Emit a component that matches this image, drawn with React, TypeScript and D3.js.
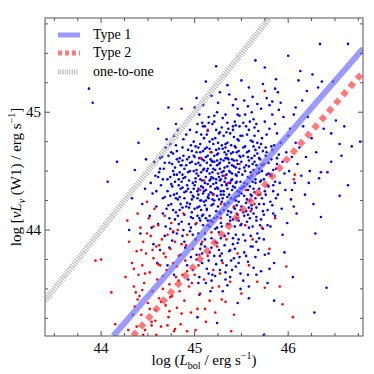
import React from 'react';
import * as d3 from 'd3';

// axis ranges and tick labels
const xDomain = [43.4, 46.8];
const yDomain = [43.1, 45.8];
const xMajor = [44, 45, 46];
const yMajor = [44, 45];

// fitted relations (slope, intercept)
const type1Fit = [0.914, 2.765];
const type2Fit = [0.9106, 2.724];

const blueSources: [number, number][] = [
  [43.87,45.20],[43.91,45.08],[44.07,44.41],[44.17,44.58],[44.36,44.51],[44.40,44.74],[44.30,44.00],[44.44,44.22],[44.47,44.35],[44.33,44.27],[44.42,43.97],[44.48,44.60],
  [44.52,44.12],[44.55,44.31],[44.58,44.46],[44.61,44.05],[44.63,44.52],[44.67,44.52],[44.62,44.49],[44.65,44.62],[44.56,43.88],[44.59,44.20],[44.68,44.28],[44.53,44.40],[44.66,44.14],[44.60,43.72],[44.64,44.38],[44.69,44.70],[44.57,44.58],[44.54,44.02],[44.68,43.95],[44.61,44.86],[44.66,44.43],[44.70,44.18],[44.63,43.83],
  [44.72,45.04],[44.86,45.03],[44.80,44.72],[44.81,44.67],[44.88,44.63],[44.81,44.60],[44.84,44.49],[44.83,44.38],[44.71,44.33],[44.73,44.10],[44.74,44.45],[44.75,44.22],[44.76,44.56],[44.77,43.98],[44.78,44.30],[44.79,44.41],[44.80,44.15],[44.82,44.26],[44.83,44.05],[44.85,44.35],[44.86,44.55],[44.87,44.19],[44.88,44.44],[44.89,43.90],[44.72,44.63],[44.74,44.01],[44.76,44.37],[44.78,44.80],[44.79,44.09],[44.81,44.47],[44.84,44.28],[44.85,43.79],[44.87,44.70],[44.89,44.32],[44.73,43.85],[44.77,44.50],[44.80,44.90],[44.82,44.12],[44.86,44.41],[44.88,44.00],[44.75,44.66],[44.83,44.58],[44.71,43.70],[44.85,44.22],[44.89,44.52],[44.74,44.29],[44.78,43.62],[44.87,43.95],
  [44.91,44.81],[45.00,45.04],[45.05,44.98],[45.07,44.81],[44.90,44.45],[44.91,44.20],[44.92,44.60],[44.93,44.35],[44.94,44.05],[44.95,44.50],[44.96,44.72],[44.97,44.15],[44.98,44.40],[44.99,44.28],[45.00,44.62],[45.01,43.92],[45.02,44.48],[45.03,44.33],[45.04,44.70],[45.05,44.10],[45.06,44.55],[45.07,44.25],[45.08,44.42],[45.09,44.88],[44.90,43.85],[44.92,44.38],[44.93,44.68],[44.95,44.22],[44.96,44.02],[44.97,44.58],[44.99,44.75],[45.00,44.18],[45.01,44.44],[45.02,43.75],[45.03,44.90],[45.04,44.30],[45.06,44.08],[45.08,44.60],[45.09,44.36],[45.10,44.52],[44.91,44.55],[44.94,44.42],[44.96,44.32],[44.98,43.96],[45.00,44.38],[45.02,44.66],[45.04,44.46],[45.05,44.20],[45.07,43.88],[45.08,44.12],[45.10,44.78],[44.92,43.70],[44.95,44.85],[44.97,44.26],[45.01,44.56],[45.03,44.12],[45.06,44.66],[45.09,44.04],[44.94,44.62],[44.99,44.50],[45.03,43.26],[45.05,43.60],[45.02,45.12],[45.08,43.80],[44.93,43.58],[45.10,44.24],[44.98,44.10],
  [45.12,45.26],[45.23,45.39],[45.25,45.08],[45.11,44.40],[45.12,44.62],[45.13,44.18],[45.14,44.52],[45.15,44.30],[45.16,44.75],[45.17,44.08],[45.18,44.45],[45.19,44.90],[45.20,44.22],[45.21,44.58],[45.22,44.35],[45.23,44.68],[45.24,44.02],[45.25,44.48],[45.26,44.82],[45.27,44.14],[45.28,44.60],[45.29,44.38],[45.30,44.95],[45.11,43.92],[45.13,44.70],[45.14,44.28],[45.15,44.96],[45.16,44.42],[45.17,44.60],[45.18,43.85],[45.19,44.26],[45.20,44.52],[45.21,44.10],[45.22,44.78],[45.23,44.40],[45.24,44.64],[45.25,44.20],[45.26,43.98],[45.27,44.52],[45.28,44.30],[45.29,44.72],[45.12,44.34],[45.14,44.84],[45.16,44.12],[45.18,44.66],[45.20,44.44],[45.22,43.90],[45.24,44.36],[45.26,44.56],[45.28,44.06],[45.30,44.46],[45.13,44.50],[45.17,44.32],[45.19,44.58],[45.21,44.92],[45.23,44.16],[45.25,44.74],[45.27,44.42],[45.29,44.24],[45.15,43.74],[45.19,43.62],[45.24,45.00],[45.11,44.88],[45.29,43.80],[45.14,44.08],[45.21,43.78],[45.24,43.21],[45.17,43.48],[45.27,43.66],[45.20,44.30],[45.16,44.48],[45.26,44.26],[45.12,44.10],
  [45.37,45.15],[45.46,43.38],[45.49,43.50],[45.31,44.50],[45.32,44.22],[45.33,44.70],[45.34,44.38],[45.35,44.05],[45.36,44.60],[45.37,44.30],[45.38,44.82],[45.39,44.15],[45.40,44.48],[45.41,44.66],[45.42,44.26],[45.43,44.92],[45.44,44.40],[45.45,44.10],[45.46,44.56],[45.47,44.76],[45.48,44.32],[45.49,44.62],[45.50,44.20],[45.31,44.80],[45.32,43.95],[45.33,44.44],[45.34,44.64],[45.35,44.28],[45.36,44.86],[45.37,44.50],[45.38,44.08],[45.39,44.72],[45.40,44.34],[45.41,43.88],[45.42,44.54],[45.43,44.18],[45.44,44.70],[45.45,44.46],[45.46,44.98],[45.47,44.24],[45.48,44.52],[45.49,44.04],[45.31,44.30],[45.33,44.98],[45.35,44.54],[45.37,43.82],[45.39,44.42],[45.41,44.88],[45.43,44.36],[45.45,44.66],[45.47,44.08],[45.49,44.80],[45.32,44.66],[45.36,44.16],[45.40,44.60],[45.44,43.96],[45.48,44.88],[45.34,43.70],[45.42,43.76],[45.46,45.03],[45.50,44.58],[45.38,44.40],[45.44,44.28],[45.35,44.74],[45.41,45.06],[45.47,43.92],[45.33,43.58],
  [45.65,45.44],[45.67,45.07],[45.57,45.05],[45.51,44.36],[45.52,44.70],[45.53,44.12],[45.54,44.50],[45.55,44.88],[45.56,44.26],[45.57,44.62],[45.58,44.02],[45.59,44.44],[45.60,44.76],[45.61,44.18],[45.62,44.56],[45.63,44.94],[45.64,44.32],[45.65,44.68],[45.66,44.08],[45.67,44.48],[45.68,44.84],[45.69,44.22],[45.70,44.60],[45.51,44.80],[45.53,44.40],[45.55,44.16],[45.57,44.34],[45.59,44.92],[45.61,44.46],[45.63,44.14],[45.65,44.40],[45.67,44.74],[45.69,44.52],[45.52,43.96],[45.56,44.66],[45.60,44.30],[45.64,44.58],[45.68,44.30],[45.54,44.98],[45.58,44.54],[45.62,43.86],[45.66,44.90],[45.70,44.04],[45.55,43.78],[45.63,43.68],[45.59,44.10],[45.69,44.70],[45.53,45.10],[45.61,45.00],[45.66,43.90],[45.57,43.62],[45.64,44.80],
  [45.75,45.38],[45.73,45.24],[45.86,45.20],[45.89,45.17],[45.87,45.28],[45.71,44.42],[45.72,44.78],[45.73,44.16],[45.74,44.56],[45.75,44.92],[45.76,44.30],[45.77,44.66],[45.78,44.04],[45.79,44.48],[45.80,44.86],[45.81,44.24],[45.82,44.60],[45.83,44.98],[45.84,44.38],[45.85,44.72],[45.86,44.12],[45.87,44.52],[45.88,44.82],[45.89,44.30],[45.90,44.64],[45.72,44.50],[45.74,43.92],[45.76,44.70],[45.78,44.38],[45.80,45.06],[45.82,44.46],[45.84,44.14],[45.86,44.90],[45.88,44.56],[45.79,43.80],[45.83,44.68],[45.77,45.12],[45.85,43.72],[45.74,44.22],[45.90,45.02],
  [46.00,45.48],[45.96,43.81],[46.05,43.60],[45.91,44.40],[45.92,44.74],[45.93,44.18],[45.94,44.58],[45.95,44.96],[45.97,44.34],[45.98,44.66],[45.99,44.06],[46.01,44.50],[46.02,44.86],[46.03,44.26],[46.04,44.62],[46.06,44.98],[46.07,44.40],[46.08,44.74],[46.09,44.14],[46.10,44.56],[45.92,45.08],[45.96,44.48],[46.00,44.80],[46.04,44.34],[46.08,45.04],[45.94,43.96],[46.06,44.20],
  [46.13,45.35],[46.26,45.32],[46.11,45.27],[46.20,45.18],[46.29,43.97],[46.28,43.30],[46.12,44.70],[46.14,44.46],[46.16,44.88],[46.18,44.30],[46.19,44.62],[46.21,44.96],[46.23,44.50],[46.25,44.78],[46.27,44.22],[46.15,45.10],[46.22,44.40],[46.30,44.66],
  [46.34,45.58],[46.64,45.58],[46.36,45.26],[46.32,45.21],[46.48,45.26],[46.55,44.29],[46.35,44.11],[46.41,43.51],[46.51,44.93],[46.60,44.88],[46.46,44.82],[46.55,44.73],[46.68,44.71],[46.77,44.75],[46.57,44.63],[46.46,44.58],[46.35,44.49],[46.42,44.49],[46.64,44.38],[46.38,44.86],[46.33,44.44],
  [45.74,43.11],[45.05,43.45],[45.12,43.55],[45.30,43.48],[45.38,43.60],[44.98,43.66],[45.58,43.42],[45.78,43.55],[45.85,43.40],
];

// dense centre of the Type 1 cloud
const blueCore: [number, number][] = [
  [45.03,44.27],[45.41,44.09],[45.18,43.93],[45.62,44.41],[45.27,44.83],[44.94,44.19],[45.53,43.81],[45.09,44.67],[45.36,44.23],[45.71,44.09],[45.22,44.51],[44.87,44.36],[45.48,44.97],[45.14,44.04],[45.33,44.61],[45.58,44.19],[45.06,43.84],[45.79,44.37],[45.24,44.29],[45.44,44.53],[44.99,44.63],[45.67,43.97],[45.11,44.21],[45.39,43.74],[45.52,44.63],[45.19,44.77],[45.83,44.21],[45.29,44.03],[45.01,44.41],[45.46,44.33],[45.64,44.87],[45.16,43.81],[45.35,44.91],[45.74,44.43],[45.07,44.49],[45.56,44.07],[45.23,43.71],[45.42,44.79],[44.96,44.11],[45.61,44.61],[45.31,44.17],[45.13,44.57],[45.86,44.41],[45.49,44.17],[45.26,44.69],[45.04,43.97],[45.69,44.49],[45.37,44.57],[45.17,44.37],[45.54,43.91],[44.93,44.49],[45.43,44.03],[45.77,44.81],[45.21,44.97],[45.59,44.37],[45.09,44.31],[45.32,43.87],[45.66,44.19],[45.47,44.67],[45.02,44.83],[45.28,44.43],[45.81,44.03],[45.14,44.63],[45.51,44.47],[45.38,44.11],[44.98,44.29],[45.63,44.71],[45.24,44.11],[45.44,44.89],[45.72,44.27],[45.19,44.49],[45.56,44.81],[45.06,44.73],[45.34,44.47],[45.88,44.61],[45.11,43.97],[45.41,44.37],[45.68,43.83],[45.27,44.57],[45.53,44.29],[44.91,44.33],[45.46,43.89],[45.15,44.91],[45.62,44.03],[45.33,44.73],[45.76,44.63],[45.04,44.57],[45.49,44.41],[45.22,44.01],[45.58,44.67],[45.36,43.97],[45.09,44.13],[45.71,44.73],[45.29,44.87],[45.42,44.19],[44.97,44.67],[45.65,44.27],[45.18,44.21],[45.52,44.91],[45.31,44.33],[45.84,44.51],[45.12,44.45],[45.45,44.59],[45.01,44.05],[45.60,44.49],[45.26,43.83],[45.39,44.65],[45.73,44.01],[45.16,44.69],[45.55,44.23],[45.07,44.37],[45.35,44.13],[45.64,44.63],[45.23,44.43],[45.48,43.77],[44.95,44.57],[45.79,44.57],[45.32,44.53],[45.13,44.81],[45.57,44.13],[45.40,44.43],[45.03,44.19],[45.69,44.35],[45.25,44.65],[45.50,44.05],[45.19,44.07],[45.82,44.71],[45.44,44.25],[45.08,44.91],[45.61,44.21],[45.30,44.69],[44.92,44.23],[45.47,44.49],[45.15,44.27],[45.74,44.13],[45.35,44.35],[45.58,44.85],[45.05,44.61],[45.27,44.15],[45.66,44.55],[45.43,44.71],[45.21,44.63],[45.53,44.37],[45.10,44.59],[45.87,44.27],[45.37,44.05],[45.62,44.75],[45.20,44.39],[45.46,44.13],[44.99,44.35],[45.70,44.41],[45.29,44.49],[45.55,44.55],[45.12,44.25],[45.41,44.85],[45.78,44.17],[45.24,44.55],[45.60,43.95],[45.06,44.25],[45.34,44.83],[45.50,44.31],[45.17,44.55],[45.67,44.65],[45.39,44.27],[45.01,44.71],[45.45,44.41],[45.28,43.93],[45.57,44.45],[45.14,44.39],[45.75,44.33],[45.32,44.41],[45.48,44.63],[44.95,43.99],[45.63,44.35],[45.23,44.85],[45.41,43.93],[45.09,44.51],[45.81,44.47],[45.36,44.67],[45.52,44.15],[45.20,44.73],[45.66,44.11],[45.04,44.35],[45.30,44.27],[45.58,44.59],[45.16,44.03],[45.44,44.47],[45.72,44.55],[45.25,44.35],[45.47,44.29],[45.11,44.69],[45.61,44.29],[45.38,44.49],[44.89,44.13],[45.54,44.71],[45.18,44.59],[45.84,44.33],[45.33,44.21],[45.06,44.43],[45.69,44.61],[45.42,44.59],[45.26,44.45],[45.49,44.35],[45.13,44.17],[45.59,44.25],[45.35,44.61],[45.02,44.51],[45.77,44.47],[45.21,44.25],[45.46,44.77],[45.65,44.43],[45.10,44.33],[45.31,44.59],[45.53,44.53],[45.28,44.33],[45.40,44.55],[45.17,44.43],[45.56,44.39],[45.07,44.17],[45.73,44.67],[45.45,44.21],[45.24,44.59],[45.63,44.51],[45.34,44.39],[45.19,44.31],
];

// lower edge of the Type 1 cloud
const blueLow: [number, number][] = [
  [45.08,43.72],[45.33,43.64],[45.57,43.73],[45.22,43.61],[45.44,43.69],[45.65,43.77],[45.13,43.67],[45.49,43.63],[45.29,43.74],[45.71,43.65],[45.02,43.79],[45.38,43.83],[45.60,43.86],[45.18,43.57],[45.52,43.57],[45.75,43.79],[45.27,43.78],[45.43,43.84],[45.11,43.86],[45.66,43.62],[44.96,43.77],[45.35,43.53],[45.80,43.67],[45.47,43.72],[45.24,43.89],[45.58,43.52],[45.04,43.55],[45.69,43.93],[45.15,43.63],[45.40,43.66],
];

// left flank and upper edge
const blueEdge: [number, number][] = [
  [44.73,44.57],[44.81,44.31],[44.66,44.27],[44.88,44.77],[44.77,44.17],[44.84,44.61],[44.71,44.43],[44.79,44.53],[44.86,44.07],[44.63,44.61],[44.75,44.39],[44.82,44.85],[44.69,44.03],[44.87,44.47],[44.74,44.73],[44.80,44.27],[44.59,44.33],[44.85,44.55],[44.77,44.65],[44.72,44.21],[44.83,44.43],[44.68,44.57],[44.89,44.27],[44.76,43.91],[44.61,44.45],[44.84,44.17],[44.78,44.47],[44.70,44.77],[44.87,44.59],[44.81,43.97],
  [45.09,45.06],[45.27,45.17],[45.44,45.11],[45.58,45.21],[45.71,45.03],[45.35,45.23],[45.18,45.14],[45.62,45.13],[45.50,45.27],[45.83,45.09],
];

const redSources: [number, number][] = [
  [43.94,43.74],[44.00,43.75],[44.49,44.24],[44.39,44.14],[44.28,44.08],[44.11,43.47],[44.15,43.20],[44.26,43.60],
  [44.30,43.90],[44.33,43.72],[44.35,43.52],[44.36,43.35],[44.38,43.82],[44.40,43.62],[44.41,43.44],[44.42,44.02],[44.43,43.28],[44.44,43.70],[44.45,43.90],[44.46,43.55],[44.47,43.15],[44.48,43.80],[44.50,43.38],[44.51,44.10],[44.52,43.64],[44.53,43.95],[44.54,43.22],[44.55,43.48],[44.56,43.76],[44.57,44.18],[44.58,43.32],[44.59,43.86],[44.60,43.58],[44.61,44.04],[44.62,43.42],[44.63,43.70],[44.64,43.18],[44.65,43.92],[44.66,43.50],[44.67,43.80],[44.68,44.12],[44.69,43.36],[44.70,43.66],[44.71,43.96],[44.72,43.26],[44.73,43.54],[44.74,43.84],[44.75,44.06],[44.76,43.44],[44.77,43.72],[44.78,43.14],[44.79,43.90],[44.80,43.60],[44.81,43.34],[44.82,44.00],[44.83,43.78],[44.84,43.48],[44.85,43.20],[44.86,43.88],[44.87,43.62],[44.88,44.14],[44.89,43.40],[44.90,43.74],[44.34,43.28],
  [44.92,43.96],[44.94,43.52],[44.96,43.30],[44.98,43.84],[45.00,43.62],[45.02,44.06],[45.03,43.33],[45.04,43.70],[45.06,43.46],[45.08,43.90],[45.10,43.58],[45.12,43.22],[45.14,43.78],[45.16,43.40],[45.18,43.98],[45.20,43.66],[45.22,43.30],[45.24,43.86],[45.26,43.52],[45.28,44.10],[45.29,43.41],[45.30,43.72],[45.14,44.85],[45.17,44.66],[45.07,44.61],[45.39,43.14],[45.42,43.28],
  [45.34,43.92],[45.38,43.56],[45.42,44.20],[45.46,43.80],[45.50,43.46],[45.54,44.04],[45.58,43.70],[45.62,43.92],[45.67,43.56],[45.75,43.51],[45.91,43.52],[45.94,43.37],[45.98,43.69],[46.05,43.26],[46.07,44.47],[46.06,44.43],[45.75,45.18],[45.72,44.02],[45.80,43.84],[45.86,44.10],[45.55,44.34],[45.64,44.22],[45.36,44.40],[45.48,44.56],
  [45.06,44.34],[45.20,44.30],[45.28,44.22],[45.45,44.14],[45.60,44.16],[45.70,44.30],[45.10,44.42],[45.32,44.46],
  [44.54,43.19],[44.71,43.19],[44.79,43.16],[44.92,43.14],[45.01,43.15],[44.45,43.11],[44.59,43.11],[44.29,43.15],[44.38,43.18],
  [44.47,43.63],[44.62,43.87],[44.39,43.41],[44.73,43.31],[44.56,44.03],[44.83,43.57],[44.44,43.49],[44.69,43.77],[44.58,43.23],[44.91,43.87],[44.35,43.67],[44.77,43.99],[44.52,43.33],[44.66,43.61],[44.86,43.29],[44.43,43.83],[44.74,43.43],[44.61,43.71],[44.97,43.55],[44.49,43.97],[44.81,43.69],[44.37,43.47],[44.64,43.39],[44.92,43.65],[44.55,43.83],[45.05,43.79],[45.19,43.51],[45.11,43.33],[45.27,43.63],[45.33,43.39],
];

const W = 374;
const H = 374;
const m = { left: 45, top: 18, right: 11, bottom: 38 };
const serif = '"Liberation Serif", "DejaVu Serif", serif';

export default function App() {
  const x = d3.scaleLinear().domain(xDomain).range([m.left, W - m.right]);
  const y = d3.scaleLinear().domain(yDomain).range([H - m.bottom, m.top]);
  const x0 = x.range()[0], x1 = x.range()[1];
  const y0 = y.range()[0], y1 = y.range()[1];

  const xMinor = d3.range(43.5, 46.8, 0.25);
  const yMinor = d3.range(43.25, 45.8, 0.25);

  const line = d3.line<number[]>().x(d => x(d[0])).y(d => y(d[1]));
  const fitPts = (f: number[]) => [
    [(yDomain[0] - f[1]) / f[0], yDomain[0]],
    [xDomain[1], f[0] * xDomain[1] + f[1]],
  ];
  const oneToOne = [[xDomain[0], xDomain[0]], [yDomain[1], yDomain[1]]];

  const isMajor = (v: number) => Math.abs(v - Math.round(v)) < 1e-6;
  const blue = [...blueSources, ...blueCore, ...blueLow, ...blueEdge];

  return (
    <svg width={W} height={H} style={{ position: 'absolute', left: 0, top: 0, background: '#fff' }}>
      <defs>
        <clipPath id="plot">
          <rect x={x0} y={y1} width={x1 - x0} height={y0 - y1} />
        </clipPath>
      </defs>
      <g clipPath="url(#plot)">
        {blue.map((d, i) => (
          <circle key={'b' + i} cx={x(d[0])} cy={y(d[1])} r={1.3} fill="#0000ff" />
        ))}
        {redSources.map((d, i) => (
          <circle key={'r' + i} cx={x(d[0])} cy={y(d[1])} r={1.3} fill="#ff0000" />
        ))}
        <path d={line(oneToOne) || ''} stroke="#b0b0b0" strokeWidth={6} strokeDasharray="1,1.3" fill="none" />
        <path d={line(fitPts(type1Fit)) || ''} stroke="#7070ff" strokeOpacity={0.7} strokeWidth={6} fill="none" />
        <path d={line(fitPts(type2Fit)) || ''} stroke="#ff4040" strokeOpacity={0.7} strokeWidth={6} strokeDasharray="6,5" fill="none" />
      </g>

      {/* frame */}
      <rect x={x0} y={y1} width={x1 - x0} height={y0 - y1} fill="none" stroke="#555" strokeWidth={1} />

      {/* ticks, all pointing inwards */}
      {xMinor.map((v, i) => {
        const len = isMajor(v) ? 5 : 3;
        return (
          <g key={'xt' + i} stroke="#555">
            <line x1={x(v)} x2={x(v)} y1={y0} y2={y0 - len} />
            <line x1={x(v)} x2={x(v)} y1={y1} y2={y1 + len} />
          </g>
        );
      })}
      {yMinor.map((v, i) => {
        const len = isMajor(v) ? 5 : 3;
        return (
          <g key={'yt' + i} stroke="#555">
            <line x1={x0} x2={x0 + len} y1={y(v)} y2={y(v)} />
            <line x1={x1} x2={x1 - len} y1={y(v)} y2={y(v)} />
          </g>
        );
      })}
      {xMajor.map(v => (
        <text key={'xl' + v} x={x(v)} y={y0 + 17} textAnchor="middle" fontFamily={serif} fontSize={15}>{v}</text>
      ))}
      {yMajor.map(v => (
        <text key={'yl' + v} x={x0 - 4} y={y(v) + 5} textAnchor="end" fontFamily={serif} fontSize={15}>{v}</text>
      ))}

      {/* axis titles */}
      <text x={(x0 + x1) / 2} y={H - 9} textAnchor="middle" fontFamily={serif} fontSize={15}>
        log (<tspan fontStyle="italic">L</tspan><tspan fontSize={10} dy={4}>bol</tspan><tspan dy={-4}> / erg s</tspan><tspan fontSize={10} dy={-6}>−1</tspan><tspan dy={6}>)</tspan>
      </text>
      <text transform={`translate(21,${(y0 + y1) / 2}) rotate(-90)`} textAnchor="middle" fontFamily={serif} fontSize={15}>
        log [<tspan fontStyle="italic">νL</tspan><tspan fontSize={10} fontStyle="italic" dy={4}>ν</tspan><tspan dy={-4}> (W1) / erg s</tspan><tspan fontSize={10} dy={-6}>−1</tspan><tspan dy={6}>]</tspan>
      </text>

      {/* legend */}
      <g fontFamily={serif} fontSize={14}>
        <line x1={58} x2={80} y1={35} y2={35} stroke="#7070ff" strokeOpacity={0.7} strokeWidth={5} />
        <text x={93} y={39}>Type 1</text>
        <line x1={58} x2={80} y1={53} y2={53} stroke="#ff4040" strokeOpacity={0.7} strokeWidth={5} strokeDasharray="4,3" />
        <text x={93} y={57}>Type 2</text>
        <line x1={58} x2={78} y1={72} y2={72} stroke="#b0b0b0" strokeWidth={5} strokeDasharray="1,1.3" />
        <text x={93} y={76}>one-to-one</text>
      </g>
    </svg>
  );
}
